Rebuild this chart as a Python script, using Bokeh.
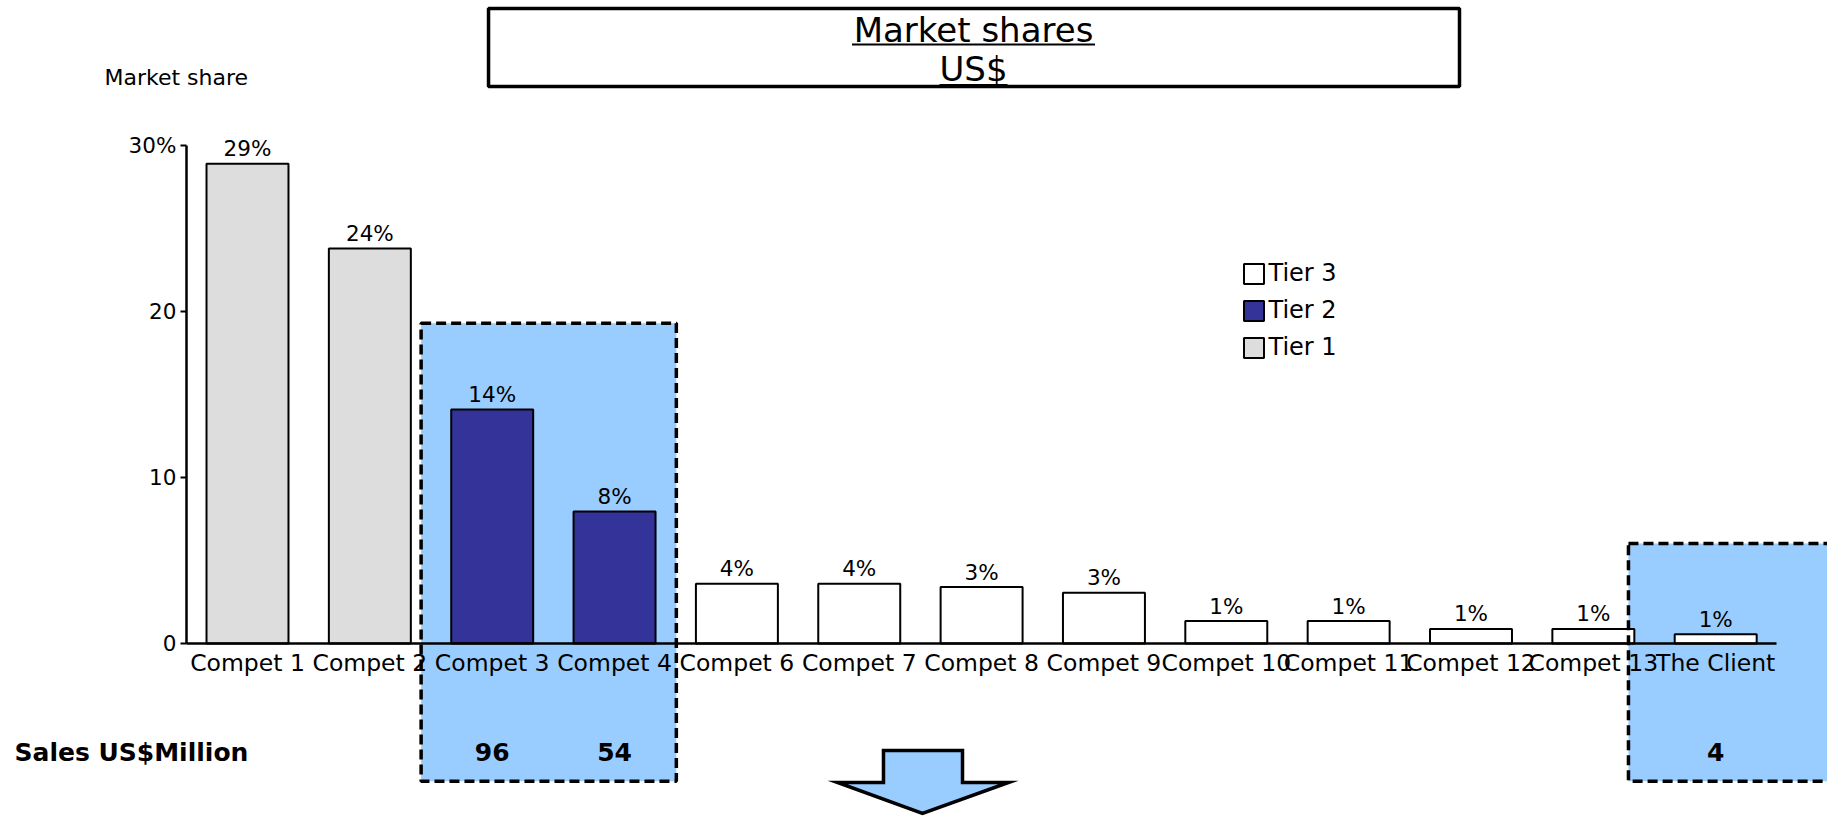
from bokeh.plotting import figure
from bokeh.models import (ColumnDataSource, CDSView, GroupFilter, LinearAxis,
                          FixedTicker, Range1d, Legend, LegendItem)
from bokeh.core.properties import value
from bokeh.embed import file_html
from bokeh.resources import INLINE

# ---------------- data ----------------
categories = ["Compet 1", "Compet 2", "Compet 3", "Compet 4", "Compet 6",
              "Compet 7", "Compet 8", "Compet 9", "Compet 10", "Compet 11",
              "Compet 12", "Compet 13", "The Client"]
shares = [28.9, 23.8, 14.1, 7.95, 3.6, 3.6, 3.4, 3.05, 1.35, 1.35, 0.88, 0.88, 0.55]
share_labels = ["29%", "24%", "14%", "8%", "4%", "4%", "3%", "3%",
                "1%", "1%", "1%", "1%", "1%"]
tiers = ["Tier 1", "Tier 1", "Tier 2", "Tier 2", "Tier 3", "Tier 3", "Tier 3",
         "Tier 3", "Tier 3", "Tier 3", "Tier 3", "Tier 3", "Tier 3"]
legend_order = ["Tier 3", "Tier 2", "Tier 1"]
tier_colors = {"Tier 1": "#DDDDDD", "Tier 2": "#333399", "Tier 3": "#FFFFFF"}
sales_categories = ["Compet 3", "Compet 4", "The Client"]
sales_values = [96, 54, 4]
y_ticks = [0, 10, 20, 30]
y_tick_labels = ["0", "10", "20", "30%"]

FONT = "DejaVu Sans"
HL = "#99CCFF"

idx = {c: i for i, c in enumerate(categories)}
src = ColumnDataSource(dict(
    x=list(range(len(categories))),
    cat=categories,
    share=shares,
    lab=share_labels,
    tier=tiers,
    color=[tier_colors[t] for t in tiers],
))

p = figure(width=1827, height=816,
           x_range=Range1d(-2.0188, 12.9138), y_range=Range1d(-10.422, 38.735),
           output_backend="svg", toolbar_location=None, min_border=0,
           x_axis_type=None, y_axis_type=None)
p.outline_line_color = None
p.background_fill_color = "white"

# ---------------- highlight boxes ----------------
box_left = [idx["Compet 3"] - 0.581, idx["The Client"] - 0.713]
box_right = [idx["Compet 4"] + 0.505, idx["The Client"] + 1.5]
box_top = [19.29, 6.02]
box_bottom = [-8.295, -8.295]
p.quad(left=box_left, right=box_right, top=box_top, bottom=box_bottom,
       fill_color=HL, line_color=None, level="underlay")
p.quad(left=box_left, right=box_right, top=box_top, bottom=box_bottom,
       fill_color=None, line_color="black", line_width=3.5, line_dash="10 5",
       level="overlay")

# ---------------- bars ----------------
renderers = {}
for t in legend_order:
    view = CDSView(filter=GroupFilter(column_name="tier", group=t))
    renderers[t] = p.vbar(x="x", top="share", bottom=0, width=0.67, source=src,
                          view=view, fill_color="color", line_color="black",
                          line_width=2)

p.text(x="x", y="share", text="lab", source=src, text_align="center",
       text_baseline="alphabetic", y_offset=-15, text_font=value(FONT),
       text_font_size="21.5px", text_color="black")

# ---------------- axes ----------------
yaxis = LinearAxis(fixed_location=-0.5, bounds=(0, 30),
                   ticker=FixedTicker(ticks=y_ticks),
                   major_label_overrides={t: l for t, l in zip(y_ticks, y_tick_labels)})
yaxis.axis_line_width = 2.5
yaxis.major_tick_line_width = 2
yaxis.major_tick_out = 6
yaxis.major_tick_in = 0
yaxis.minor_tick_out = 0
yaxis.minor_tick_in = 0
yaxis.major_label_standoff = 4
yaxis.major_label_text_font = FONT
yaxis.major_label_text_font_size = "21.5px"
yaxis.major_label_text_color = "black"
p.add_layout(yaxis, "left")

xaxis = LinearAxis(fixed_location=0, bounds=(-0.5, len(categories) - 0.5),
                   ticker=FixedTicker(ticks=list(range(len(categories)))),
                   major_label_overrides={i: c for i, c in enumerate(categories)})
xaxis.axis_line_width = 2.5
xaxis.major_tick_out = 0
xaxis.major_tick_in = 0
xaxis.minor_tick_out = 0
xaxis.minor_tick_in = 0
xaxis.major_label_standoff = 6
xaxis.major_label_text_font = FONT
xaxis.major_label_text_font_size = "23.5px"
xaxis.major_label_text_color = "black"
p.add_layout(xaxis, "below")

# y axis title
p.text(x=[-1.1688], y=[34.07], text=["Market share"], text_align="left",
       text_baseline="middle", text_font=value(FONT), text_font_size="22px",
       text_color="black")

# ---------------- title box ----------------
p.quad(left=[1.970], right=[9.906], top=[38.25], bottom=[33.55],
       fill_color=None, line_color="black", line_width=3.5)
title_lines = ["Market shares", "US$"]
title_y = [36.93, 34.58]
p.text(x=[5.934, 5.934], y=title_y, text=title_lines, text_align="center",
       text_baseline="alphabetic", text_font=value(FONT), text_font_size="34px",
       text_color="black")
p.segment(x0=[5.934 - 0.993, 5.934 - 0.278], x1=[5.934 + 0.993, 5.934 + 0.278],
          y0=[36.08, 33.64], y1=[36.08, 33.64], line_color="black", line_width=2)

# ---------------- sales row ----------------
p.text(x=[-1.904], y=[-6.566], text=["Sales US$Million"], text_align="left",
       text_baseline="middle", text_font=value(FONT), text_font_size="25px",
       text_font_style="bold", text_color="black")
p.text(x=[idx[c] for c in sales_categories], y=[-6.566] * len(sales_values),
       text=[str(v) for v in sales_values], text_align="center",
       text_baseline="middle", text_font=value(FONT), text_font_size="25px",
       text_font_style="bold", text_color="black")

# ---------------- arrow ----------------
ax = [5.198, 5.844, 5.844, 6.220, 5.517, 4.822, 5.198]
ay = [-6.446, -6.446, -8.373, -8.373, -10.24, -8.373, -8.373]
p.patch(ax, ay, fill_color=HL, line_color="black", line_width=3.5,
        line_join="miter")

# ---------------- legend ----------------
legend = Legend(items=[LegendItem(label=t, renderers=[renderers[t]]) for t in legend_order],
                location=(1240.5, 455), orientation="vertical",
                glyph_width=25, glyph_height=25, label_standoff=3, spacing=9,
                padding=0, margin=0, border_line_color=None,
                background_fill_alpha=0, label_text_font=FONT,
                label_text_font_size="24px", label_text_color="black")
p.add_layout(legend)

open("out.html", "w").write(file_html(p, INLINE))
